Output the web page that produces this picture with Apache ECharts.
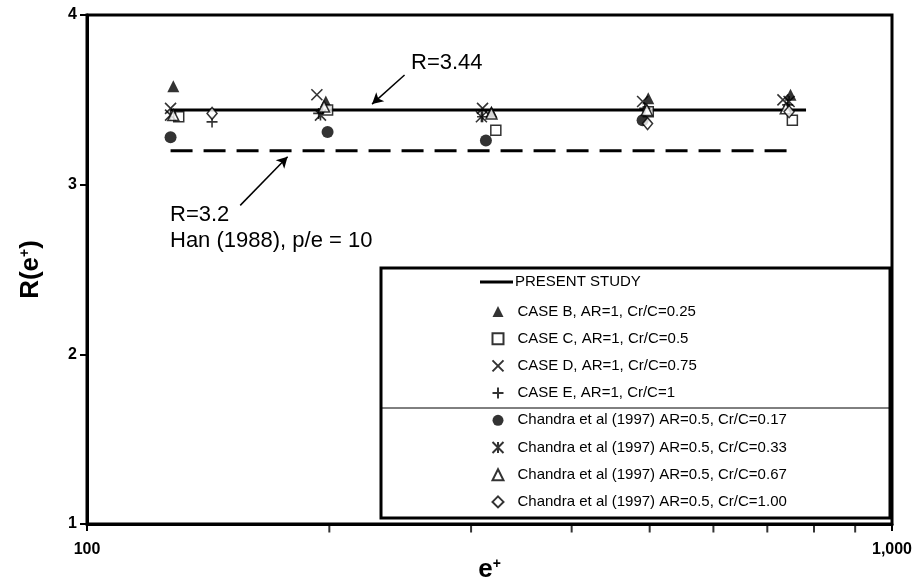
<!DOCTYPE html>
<html>
<head>
<meta charset="utf-8">
<script src="https://cdn.jsdelivr.net/npm/echarts@6/dist/echarts.min.js"></script>
<style>
  html, body { margin: 0; padding: 0; background: #fff; }
  #chart { width: 917px; height: 584px; }
</style>
</head>
<body>
<div id="chart"></div>
<script>
// e+ values and R(e+) for each data set
const caseB = [[128, 3.58], [198, 3.49], [318, 3.43], [498, 3.51], [748, 3.53]];
const caseC = [[130, 3.40], [199, 3.44], [322, 3.32], [498, 3.43], [752, 3.38]];
const caseD = [[127, 3.45], [193, 3.53], [310, 3.45], [490, 3.49], [732, 3.50]];
const caseE = [[143, 3.37], [194, 3.42], [310, 3.40], [493, 3.45], [742, 3.47]];
const chandra017 = [[127, 3.28], [199, 3.31], [313, 3.26], [490, 3.38]];
const chandra033 = [[127, 3.41], [195, 3.41], [309, 3.40], [745, 3.49]];
const chandra067 = [[128, 3.41], [197, 3.46], [318, 3.42], [496, 3.44], [738, 3.45]];
const chandra100 = [[143, 3.42], [497, 3.36], [745, 3.43]];

// fitted levels
const presentStudy = [[127, 3.44], [782, 3.44]];
const han1988 = [[127, 3.2], [762, 3.2]];

// axis ticks
const xMinorTicks = [200, 300, 400, 500, 600, 700, 800, 900];
const yTicks = [1, 2, 3, 4];

const seriesNames = [
  'CASE B, AR=1, Cr/C=0.25',
  'CASE C, AR=1, Cr/C=0.5',
  'CASE D, AR=1, Cr/C=0.75',
  'CASE E, AR=1, Cr/C=1',
  'Chandra et al (1997) AR=0.5, Cr/C=0.17',
  'Chandra et al (1997) AR=0.5, Cr/C=0.33',
  'Chandra et al (1997) AR=0.5, Cr/C=0.67',
  'Chandra et al (1997) AR=0.5, Cr/C=1.00'
];

const FONT = '"Liberation Sans", Arial, Helvetica, sans-serif';
const crossPath = 'path://M0,0L10,10M10,0L0,10';
const plusPath = 'path://M5,0L5,10M0,5L10,5';
const starPath = 'path://M0,0L10,10M10,0L0,10M5,0L5,10';

const solid = { color: '#000' };
const hollow = { color: '#fff', borderColor: '#000', borderWidth: 1.5 };
const stroked = { color: 'rgba(0,0,0,0)', borderColor: '#000', borderWidth: 1.6 };

// marker symbol per data set, shared by the plot and the legend
const symbols = ['triangle', 'rect', crossPath, plusPath, 'circle', starPath, 'triangle', 'diamond'];
const sizes = [12, 10, 11, 11, 12, 11, 11, [10, 12]];
const styles = [solid, hollow, stroked, stroked, solid, stroked, hollow, hollow];
const dataSets = [caseB, caseC, caseD, caseE, chandra017, chandra033, chandra067, chandra100];

const scatterSeries = seriesNames.map(function (name, i) {
  return {
    name: name, type: 'scatter', data: dataSets[i], symbol: symbols[i], symbolSize: sizes[i],
    itemStyle: styles[i], z: 5
  };
});

const chart = echarts.init(document.getElementById('chart'), null, { renderer: 'canvas' });

const titleRich = {
  b: { fontFamily: FONT, fontWeight: 'bold', fontSize: 26, color: '#000', verticalAlign: 'bottom' },
  s: { fontFamily: FONT, fontWeight: 'bold', fontSize: 14, color: '#000', verticalAlign: 'top', padding: [0, 0, 12, 0] }
};

chart.setOption({
  animation: false,
  backgroundColor: '#fff',
  textStyle: { fontFamily: FONT },
  grid: {
    left: 87, right: 25, top: 15, bottom: 60,
    outerBoundsMode: 'none', containLabel: false,
    show: true, borderColor: '#000', borderWidth: 3, backgroundColor: 'transparent'
  },
  xAxis: {
    type: 'log', logBase: 10, min: 100, max: 1000,
    name: '{b|e}{s|+}',
    nameLocation: 'middle', nameGap: 33, nameMoveOverlap: false,
    nameTextStyle: { rich: titleRich },
    axisLine: { lineStyle: { color: '#000', width: 3 } },
    axisTick: { show: true, inside: false, length: 7, lineStyle: { color: '#000', width: 2 } },
    axisLabel: {
      color: '#000', fontFamily: FONT, fontWeight: 'bold', fontSize: 16, margin: 18,
      formatter: function (v) { return v >= 1000 ? '1,000' : String(v); }
    },
    splitLine: { show: false },
    minorTick: { show: false }
  },
  yAxis: {
    type: 'value', min: yTicks[0], max: yTicks[yTicks.length - 1], interval: 1,
    name: '{b|R(e}{s|+}{b|)}',
    nameLocation: 'middle', nameGap: 43, nameRotate: 90, nameMoveOverlap: false,
    nameTextStyle: { rich: titleRich },
    axisLine: { show: true, lineStyle: { color: '#000', width: 3 } },
    axisTick: { show: true, inside: false, length: 7, lineStyle: { color: '#000', width: 2 } },
    axisLabel: { color: '#000', fontFamily: FONT, fontWeight: 'bold', fontSize: 16, margin: 10 },
    splitLine: { show: false }
  },
  legend: [
    {
      data: [{ name: 'PRESENT STUDY', icon: 'rect' }],
      orient: 'vertical', left: 480, top: 274, padding: 0,
      itemWidth: 33, itemHeight: 3,
      textStyle: { fontFamily: FONT, fontSize: 15, color: '#000', lineHeight: 16, padding: [0, 0, 0, -3] },
      selectedMode: false
    },
    {
      data: seriesNames.map(function (name, i) { return { name: name, icon: symbols[i] }; }),
      orient: 'vertical', left: 491.5, top: 303.5, padding: 0,
      itemWidth: 11, itemHeight: 11, itemGap: 11.2,
      textStyle: { fontFamily: FONT, fontSize: 15, color: '#000', lineHeight: 16, padding: [0, 0, 0, 9] },
      selectedMode: false
    }
  ],
  series: [
    {
      name: 'PRESENT STUDY', type: 'line', data: presentStudy,
      symbol: 'none', lineStyle: { color: '#000', width: 3 }, itemStyle: { color: '#000' }, z: 3
    },
    {
      name: 'Han (1988)', type: 'line', data: han1988,
      symbol: 'none', lineStyle: { color: '#000', width: 3, type: [22, 11] }, z: 3,
      markLine: {
        silent: true, animation: false,
        symbol: ['none', 'arrow'], symbolSize: [9, 11],
        lineStyle: { color: '#000', width: 1.5, type: 'solid' },
        label: { show: false },
        data: [
          [{ coord: [248, 3.646] }, { coord: [226, 3.475] }],
          [{ coord: [155, 2.878] }, { coord: [177.5, 3.165] }]
        ]
      }
    }
  ].concat(scatterSeries, [
    {
      name: 'minor ticks', type: 'scatter', data: xMinorTicks.map(function (v) { return [v, yTicks[0]]; }),
      symbol: 'rect', symbolSize: [2, 7], symbolOffset: [0, 5], clip: false, silent: true,
      itemStyle: { color: '#000' }, z: 6
    }
  ]),
  graphic: [
    {
      type: 'rect', z: 1,
      shape: { x: 381, y: 268, width: 509, height: 250 },
      style: { fill: '#fff', stroke: '#000', lineWidth: 3 }
    },
    {
      type: 'line', z: 2,
      shape: { x1: 381, y1: 408, x2: 889, y2: 408 },
      style: { stroke: '#000', lineWidth: 1 }
    },
    {
      type: 'text', left: 411, top: 52, z: 10,
      style: { text: 'R=3.44', fontFamily: FONT, fontSize: 22, fill: '#000' }
    },
    {
      type: 'text', left: 170, top: 204, z: 10,
      style: { text: 'R=3.2', fontFamily: FONT, fontSize: 22, fill: '#000' }
    },
    {
      type: 'text', left: 170, top: 230, z: 10,
      style: { text: 'Han (1988), p/e = 10', fontFamily: FONT, fontSize: 22, fill: '#000' }
    }
  ]
});
</script>
</body>
</html>
